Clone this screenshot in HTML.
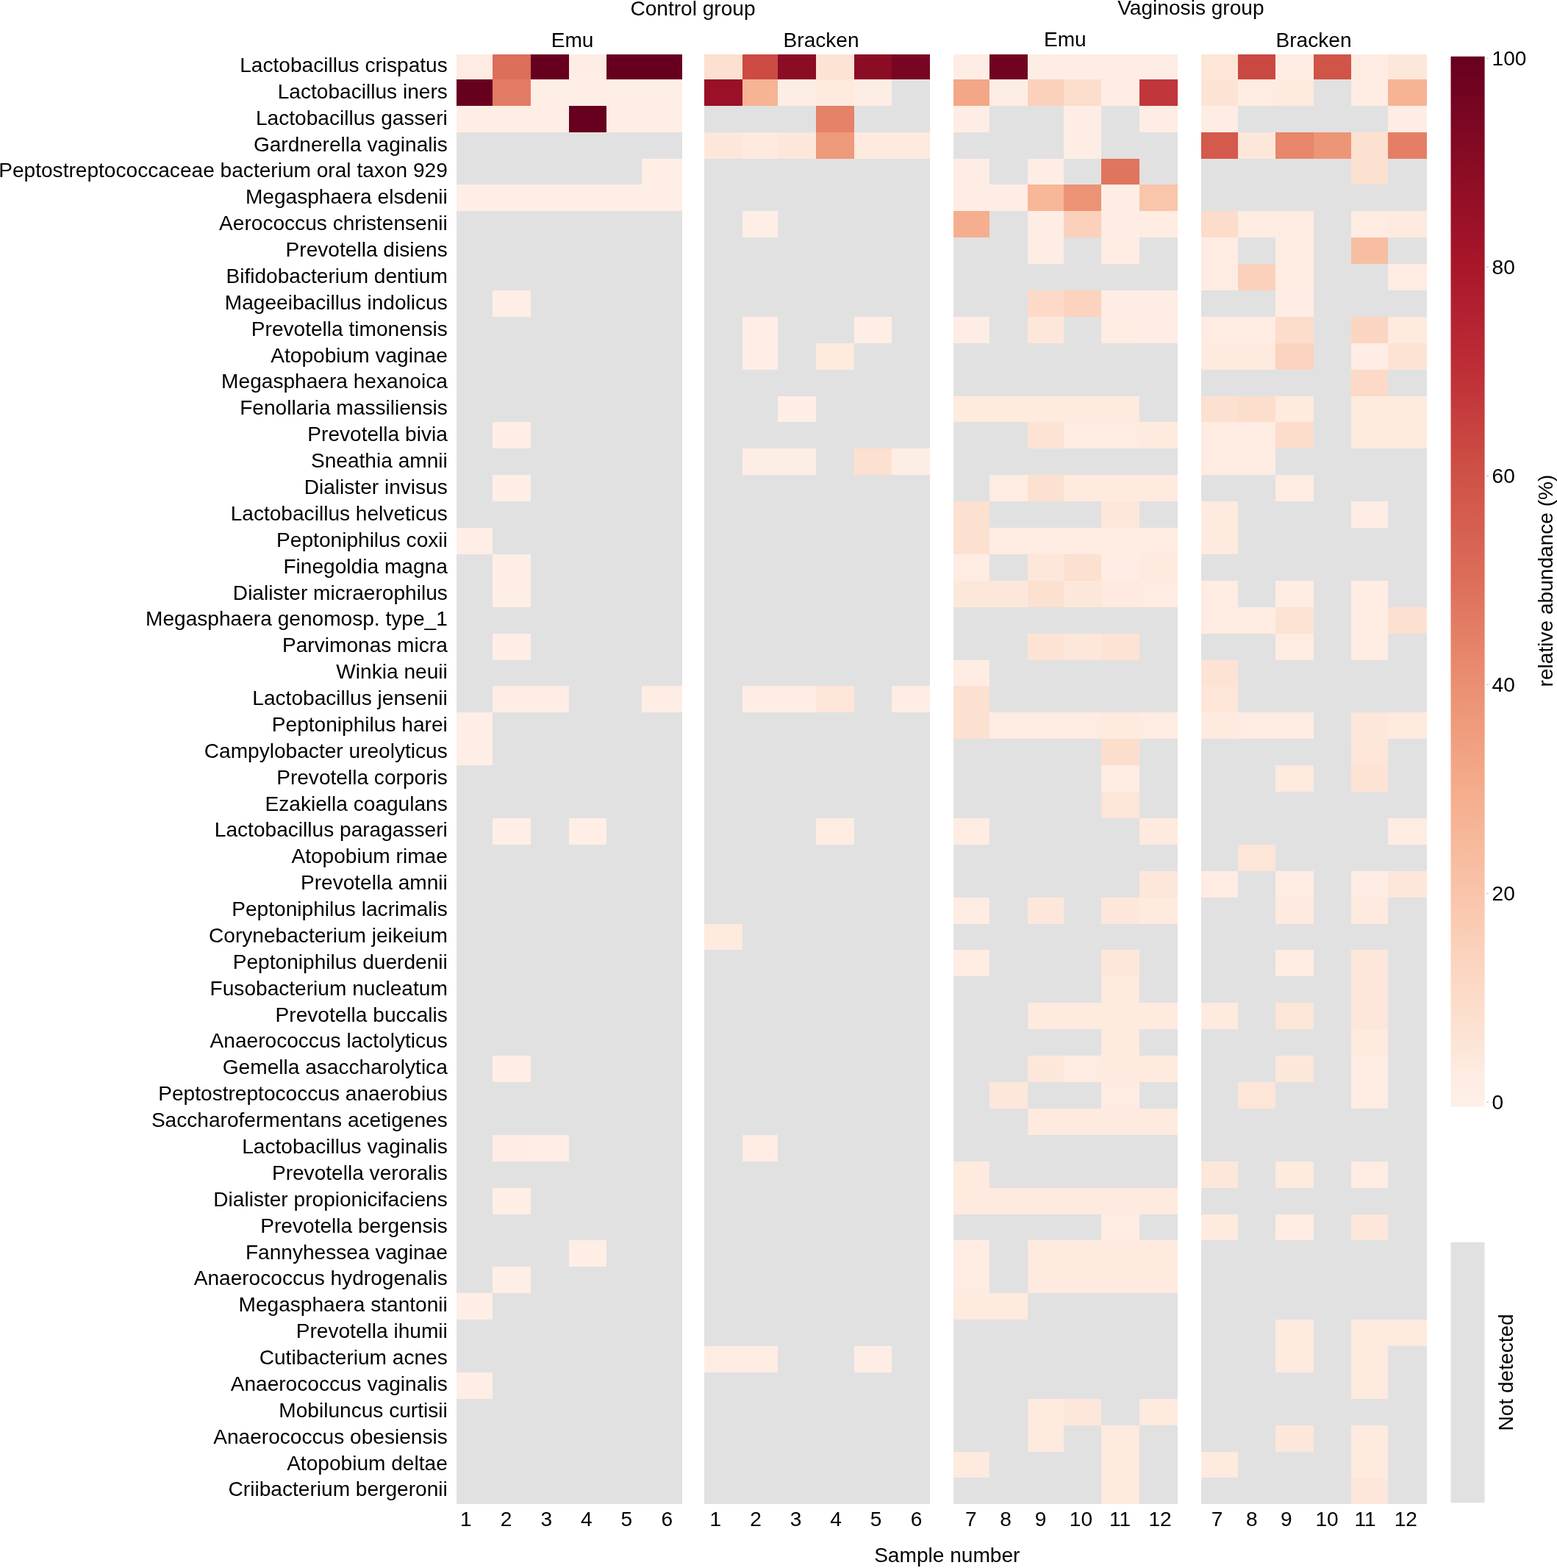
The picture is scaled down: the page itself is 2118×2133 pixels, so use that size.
<!DOCTYPE html>
<html><head><meta charset="utf-8"><title>Heatmap</title>
<style>html,body{margin:0;padding:0;background:#fff;} body{width:2118px;height:2133px;overflow:hidden;} svg{display:block;}</style>
</head><body>
<svg width="2118" height="2133" viewBox="0 0 2118 2133">
<defs><linearGradient id="cb" x1="0" y1="1" x2="0" y2="0">
<stop offset="0.00" stop-color="#feefe8"/>
<stop offset="0.03" stop-color="#feece3"/>
<stop offset="0.05" stop-color="#fde7da"/>
<stop offset="0.10" stop-color="#fcdcca"/>
<stop offset="0.15" stop-color="#fbd1bb"/>
<stop offset="0.20" stop-color="#f9c5ab"/>
<stop offset="0.30" stop-color="#f5ad8c"/>
<stop offset="0.40" stop-color="#eb9072"/>
<stop offset="0.50" stop-color="#dd6e5a"/>
<stop offset="0.60" stop-color="#cf5246"/>
<stop offset="0.70" stop-color="#be2f37"/>
<stop offset="0.80" stop-color="#aa162a"/>
<stop offset="0.90" stop-color="#880b24"/>
<stop offset="1.00" stop-color="#67001f"/>
</linearGradient></defs>
<rect x="0" y="0" width="2118" height="2133" fill="#fff"/>
<rect x="621" y="74" width="307" height="1972" fill="#e1e1e1"/>
<rect x="621" y="74" width="49" height="34" fill="#feece3"/>
<rect x="670" y="74" width="52" height="34" fill="#dd6e5a"/>
<rect x="722" y="74" width="52" height="34" fill="#67001f"/>
<rect x="774" y="74" width="51" height="34" fill="#feede5"/>
<rect x="825" y="74" width="48" height="34" fill="#67001f"/>
<rect x="873" y="74" width="55" height="34" fill="#67001f"/>
<rect x="621" y="108" width="49" height="36" fill="#67001f"/>
<rect x="670" y="108" width="52" height="36" fill="#e37c64"/>
<rect x="722" y="108" width="52" height="36" fill="#feeee6"/>
<rect x="774" y="108" width="51" height="36" fill="#feeee6"/>
<rect x="825" y="108" width="48" height="36" fill="#feeee6"/>
<rect x="873" y="108" width="55" height="36" fill="#feeee6"/>
<rect x="621" y="144" width="49" height="36" fill="#feeee6"/>
<rect x="670" y="144" width="52" height="36" fill="#feeee6"/>
<rect x="722" y="144" width="52" height="36" fill="#feeee6"/>
<rect x="774" y="144" width="51" height="36" fill="#67001f"/>
<rect x="825" y="144" width="48" height="36" fill="#feeee6"/>
<rect x="873" y="144" width="55" height="36" fill="#feeee6"/>
<rect x="873" y="216" width="55" height="35" fill="#feeee6"/>
<rect x="621" y="251" width="49" height="36" fill="#feeee6"/>
<rect x="670" y="251" width="52" height="36" fill="#feeee6"/>
<rect x="722" y="251" width="52" height="36" fill="#feeee6"/>
<rect x="774" y="251" width="51" height="36" fill="#feeee6"/>
<rect x="825" y="251" width="48" height="36" fill="#feeee6"/>
<rect x="873" y="251" width="55" height="36" fill="#feeee6"/>
<rect x="670" y="395" width="52" height="36" fill="#feeee6"/>
<rect x="670" y="574" width="52" height="36" fill="#feeee6"/>
<rect x="670" y="646" width="52" height="36" fill="#feeee6"/>
<rect x="621" y="718" width="49" height="36" fill="#feeee6"/>
<rect x="670" y="754" width="52" height="36" fill="#feeee6"/>
<rect x="670" y="790" width="52" height="36" fill="#feeee6"/>
<rect x="670" y="862" width="52" height="36" fill="#feeee6"/>
<rect x="670" y="933" width="52" height="36" fill="#feede5"/>
<rect x="722" y="933" width="52" height="36" fill="#feede5"/>
<rect x="873" y="933" width="55" height="36" fill="#feede5"/>
<rect x="621" y="969" width="49" height="36" fill="#feeee6"/>
<rect x="621" y="1005" width="49" height="36" fill="#feeee6"/>
<rect x="670" y="1113" width="52" height="36" fill="#feeee6"/>
<rect x="774" y="1113" width="51" height="36" fill="#feeee6"/>
<rect x="670" y="1436" width="52" height="36" fill="#feeee6"/>
<rect x="670" y="1544" width="52" height="36" fill="#feede5"/>
<rect x="722" y="1544" width="52" height="36" fill="#feeee6"/>
<rect x="670" y="1616" width="52" height="36" fill="#feeee6"/>
<rect x="774" y="1687" width="51" height="36" fill="#feeee6"/>
<rect x="670" y="1723" width="52" height="36" fill="#feeee6"/>
<rect x="621" y="1759" width="49" height="36" fill="#feeee6"/>
<rect x="621" y="1867" width="49" height="36" fill="#feeee6"/>
<rect x="958" y="74" width="307" height="1972" fill="#e1e1e1"/>
<rect x="958" y="74" width="52" height="34" fill="#fce0d0"/>
<rect x="1010" y="74" width="48" height="34" fill="#cc4b43"/>
<rect x="1058" y="74" width="52" height="34" fill="#8b0c25"/>
<rect x="1110" y="74" width="52" height="34" fill="#fde3d4"/>
<rect x="1162" y="74" width="51" height="34" fill="#8b0c25"/>
<rect x="1213" y="74" width="52" height="34" fill="#780622"/>
<rect x="958" y="108" width="52" height="36" fill="#991027"/>
<rect x="1010" y="108" width="48" height="36" fill="#f6b495"/>
<rect x="1058" y="108" width="52" height="36" fill="#feede5"/>
<rect x="1110" y="108" width="52" height="36" fill="#feeade"/>
<rect x="1162" y="108" width="51" height="36" fill="#feede5"/>
<rect x="1110" y="144" width="52" height="36" fill="#e58268"/>
<rect x="958" y="180" width="52" height="36" fill="#fde7da"/>
<rect x="1010" y="180" width="48" height="36" fill="#feeade"/>
<rect x="1058" y="180" width="52" height="36" fill="#fde7da"/>
<rect x="1110" y="180" width="52" height="36" fill="#ee997a"/>
<rect x="1162" y="180" width="51" height="36" fill="#feeade"/>
<rect x="1213" y="180" width="52" height="36" fill="#feeade"/>
<rect x="1010" y="287" width="48" height="36" fill="#feeee6"/>
<rect x="1010" y="431" width="48" height="36" fill="#feeee6"/>
<rect x="1162" y="431" width="51" height="36" fill="#feeee6"/>
<rect x="1010" y="467" width="48" height="36" fill="#feeee6"/>
<rect x="1110" y="467" width="52" height="36" fill="#feeade"/>
<rect x="1058" y="539" width="52" height="35" fill="#feeee6"/>
<rect x="1010" y="610" width="48" height="36" fill="#feede5"/>
<rect x="1058" y="610" width="52" height="36" fill="#feede5"/>
<rect x="1162" y="610" width="51" height="36" fill="#fce0d0"/>
<rect x="1213" y="610" width="52" height="36" fill="#feede5"/>
<rect x="1010" y="933" width="48" height="36" fill="#feede5"/>
<rect x="1058" y="933" width="52" height="36" fill="#feede5"/>
<rect x="1110" y="933" width="52" height="36" fill="#fde5d7"/>
<rect x="1213" y="933" width="52" height="36" fill="#feede5"/>
<rect x="1110" y="1113" width="52" height="36" fill="#feece3"/>
<rect x="958" y="1257" width="52" height="35" fill="#feeade"/>
<rect x="1010" y="1544" width="48" height="36" fill="#feece3"/>
<rect x="958" y="1831" width="52" height="36" fill="#feece3"/>
<rect x="1010" y="1831" width="48" height="36" fill="#feece3"/>
<rect x="1162" y="1831" width="51" height="36" fill="#feede5"/>
<rect x="1297" y="74" width="305" height="1972" fill="#e1e1e1"/>
<rect x="1297" y="74" width="49" height="34" fill="#feede5"/>
<rect x="1346" y="74" width="52" height="34" fill="#710320"/>
<rect x="1398" y="74" width="49" height="34" fill="#feede5"/>
<rect x="1447" y="74" width="51" height="34" fill="#feede5"/>
<rect x="1498" y="74" width="52" height="34" fill="#feede5"/>
<rect x="1550" y="74" width="52" height="34" fill="#feede5"/>
<rect x="1297" y="108" width="49" height="36" fill="#f3a787"/>
<rect x="1346" y="108" width="52" height="36" fill="#feede5"/>
<rect x="1398" y="108" width="49" height="36" fill="#fbd1bb"/>
<rect x="1447" y="108" width="51" height="36" fill="#fcdecd"/>
<rect x="1498" y="108" width="52" height="36" fill="#feede5"/>
<rect x="1550" y="108" width="52" height="36" fill="#c1363a"/>
<rect x="1297" y="144" width="49" height="36" fill="#feede5"/>
<rect x="1447" y="144" width="51" height="36" fill="#feede5"/>
<rect x="1550" y="144" width="52" height="36" fill="#feede5"/>
<rect x="1447" y="180" width="51" height="36" fill="#feede5"/>
<rect x="1297" y="216" width="49" height="35" fill="#feede5"/>
<rect x="1398" y="216" width="49" height="35" fill="#feede5"/>
<rect x="1498" y="216" width="52" height="35" fill="#e0755f"/>
<rect x="1297" y="251" width="49" height="36" fill="#feede5"/>
<rect x="1346" y="251" width="52" height="36" fill="#feede5"/>
<rect x="1398" y="251" width="49" height="36" fill="#f7b798"/>
<rect x="1447" y="251" width="51" height="36" fill="#ec9375"/>
<rect x="1498" y="251" width="52" height="36" fill="#feede5"/>
<rect x="1550" y="251" width="52" height="36" fill="#f9c5ab"/>
<rect x="1297" y="287" width="49" height="36" fill="#f5af8f"/>
<rect x="1398" y="287" width="49" height="36" fill="#feede5"/>
<rect x="1447" y="287" width="51" height="36" fill="#fbd1bb"/>
<rect x="1498" y="287" width="52" height="36" fill="#feede5"/>
<rect x="1550" y="287" width="52" height="36" fill="#feece3"/>
<rect x="1398" y="323" width="49" height="36" fill="#feede5"/>
<rect x="1498" y="323" width="52" height="36" fill="#feece3"/>
<rect x="1398" y="395" width="49" height="36" fill="#fcdac7"/>
<rect x="1447" y="395" width="51" height="36" fill="#fbd3be"/>
<rect x="1498" y="395" width="52" height="36" fill="#feede5"/>
<rect x="1550" y="395" width="52" height="36" fill="#feede5"/>
<rect x="1297" y="431" width="49" height="36" fill="#feede5"/>
<rect x="1398" y="431" width="49" height="36" fill="#fde7da"/>
<rect x="1498" y="431" width="52" height="36" fill="#feece3"/>
<rect x="1550" y="431" width="52" height="36" fill="#feede5"/>
<rect x="1297" y="539" width="49" height="35" fill="#feeade"/>
<rect x="1346" y="539" width="52" height="35" fill="#feeade"/>
<rect x="1398" y="539" width="49" height="35" fill="#feeade"/>
<rect x="1447" y="539" width="51" height="35" fill="#feeade"/>
<rect x="1498" y="539" width="52" height="35" fill="#feeade"/>
<rect x="1398" y="574" width="49" height="36" fill="#fde3d4"/>
<rect x="1447" y="574" width="51" height="36" fill="#feece3"/>
<rect x="1498" y="574" width="52" height="36" fill="#feece3"/>
<rect x="1550" y="574" width="52" height="36" fill="#feeade"/>
<rect x="1346" y="646" width="52" height="36" fill="#feece3"/>
<rect x="1398" y="646" width="49" height="36" fill="#fce0d0"/>
<rect x="1447" y="646" width="51" height="36" fill="#feeade"/>
<rect x="1498" y="646" width="52" height="36" fill="#feeade"/>
<rect x="1550" y="646" width="52" height="36" fill="#feeade"/>
<rect x="1297" y="682" width="49" height="36" fill="#fce0d0"/>
<rect x="1498" y="682" width="52" height="36" fill="#fde7da"/>
<rect x="1297" y="718" width="49" height="36" fill="#fce0d0"/>
<rect x="1346" y="718" width="52" height="36" fill="#feece3"/>
<rect x="1398" y="718" width="49" height="36" fill="#feece3"/>
<rect x="1447" y="718" width="51" height="36" fill="#feece3"/>
<rect x="1498" y="718" width="52" height="36" fill="#feece3"/>
<rect x="1550" y="718" width="52" height="36" fill="#feece3"/>
<rect x="1297" y="754" width="49" height="36" fill="#feece3"/>
<rect x="1398" y="754" width="49" height="36" fill="#fde7da"/>
<rect x="1447" y="754" width="51" height="36" fill="#fce0d0"/>
<rect x="1498" y="754" width="52" height="36" fill="#feede5"/>
<rect x="1550" y="754" width="52" height="36" fill="#feeade"/>
<rect x="1297" y="790" width="49" height="36" fill="#fde7da"/>
<rect x="1346" y="790" width="52" height="36" fill="#fde7da"/>
<rect x="1398" y="790" width="49" height="36" fill="#fce0d0"/>
<rect x="1447" y="790" width="51" height="36" fill="#fde7da"/>
<rect x="1498" y="790" width="52" height="36" fill="#feeade"/>
<rect x="1550" y="790" width="52" height="36" fill="#feece3"/>
<rect x="1398" y="862" width="49" height="36" fill="#fde3d4"/>
<rect x="1447" y="862" width="51" height="36" fill="#fde7da"/>
<rect x="1498" y="862" width="52" height="36" fill="#fde3d4"/>
<rect x="1297" y="898" width="49" height="35" fill="#feece3"/>
<rect x="1297" y="933" width="49" height="36" fill="#fce0d0"/>
<rect x="1297" y="969" width="49" height="36" fill="#fce0d0"/>
<rect x="1346" y="969" width="52" height="36" fill="#feece3"/>
<rect x="1398" y="969" width="49" height="36" fill="#feece3"/>
<rect x="1447" y="969" width="51" height="36" fill="#feece3"/>
<rect x="1498" y="969" width="52" height="36" fill="#feeade"/>
<rect x="1550" y="969" width="52" height="36" fill="#feece3"/>
<rect x="1498" y="1005" width="52" height="36" fill="#fcdecd"/>
<rect x="1498" y="1041" width="52" height="36" fill="#feece3"/>
<rect x="1498" y="1077" width="52" height="36" fill="#fde5d7"/>
<rect x="1297" y="1113" width="49" height="36" fill="#feece3"/>
<rect x="1550" y="1113" width="52" height="36" fill="#feeade"/>
<rect x="1550" y="1185" width="52" height="36" fill="#fde7da"/>
<rect x="1297" y="1221" width="49" height="36" fill="#feece3"/>
<rect x="1398" y="1221" width="49" height="36" fill="#fde7da"/>
<rect x="1498" y="1221" width="52" height="36" fill="#fde7da"/>
<rect x="1550" y="1221" width="52" height="36" fill="#feeade"/>
<rect x="1297" y="1292" width="49" height="36" fill="#feece3"/>
<rect x="1498" y="1292" width="52" height="36" fill="#fde7da"/>
<rect x="1498" y="1328" width="52" height="36" fill="#feeade"/>
<rect x="1398" y="1364" width="49" height="36" fill="#feeade"/>
<rect x="1447" y="1364" width="51" height="36" fill="#feeade"/>
<rect x="1498" y="1364" width="52" height="36" fill="#feeade"/>
<rect x="1550" y="1364" width="52" height="36" fill="#feeade"/>
<rect x="1498" y="1400" width="52" height="36" fill="#feeade"/>
<rect x="1398" y="1436" width="49" height="36" fill="#fde7da"/>
<rect x="1447" y="1436" width="51" height="36" fill="#feece3"/>
<rect x="1498" y="1436" width="52" height="36" fill="#feeade"/>
<rect x="1550" y="1436" width="52" height="36" fill="#feeade"/>
<rect x="1346" y="1472" width="52" height="36" fill="#fde7da"/>
<rect x="1498" y="1472" width="52" height="36" fill="#feece3"/>
<rect x="1398" y="1508" width="49" height="36" fill="#feeade"/>
<rect x="1447" y="1508" width="51" height="36" fill="#feeade"/>
<rect x="1498" y="1508" width="52" height="36" fill="#feeade"/>
<rect x="1550" y="1508" width="52" height="36" fill="#feeade"/>
<rect x="1297" y="1580" width="49" height="36" fill="#feeade"/>
<rect x="1297" y="1616" width="49" height="36" fill="#feeade"/>
<rect x="1346" y="1616" width="52" height="36" fill="#feeade"/>
<rect x="1398" y="1616" width="49" height="36" fill="#feeade"/>
<rect x="1447" y="1616" width="51" height="36" fill="#feeade"/>
<rect x="1498" y="1616" width="52" height="36" fill="#feeade"/>
<rect x="1550" y="1616" width="52" height="36" fill="#feeade"/>
<rect x="1498" y="1652" width="52" height="35" fill="#feece3"/>
<rect x="1297" y="1687" width="49" height="36" fill="#feece3"/>
<rect x="1398" y="1687" width="49" height="36" fill="#feeade"/>
<rect x="1447" y="1687" width="51" height="36" fill="#feeade"/>
<rect x="1498" y="1687" width="52" height="36" fill="#feeade"/>
<rect x="1550" y="1687" width="52" height="36" fill="#feeade"/>
<rect x="1297" y="1723" width="49" height="36" fill="#feece3"/>
<rect x="1398" y="1723" width="49" height="36" fill="#feeade"/>
<rect x="1447" y="1723" width="51" height="36" fill="#feeade"/>
<rect x="1498" y="1723" width="52" height="36" fill="#feeade"/>
<rect x="1550" y="1723" width="52" height="36" fill="#feeade"/>
<rect x="1297" y="1759" width="49" height="36" fill="#feeade"/>
<rect x="1346" y="1759" width="52" height="36" fill="#feeade"/>
<rect x="1398" y="1903" width="49" height="36" fill="#feeade"/>
<rect x="1447" y="1903" width="51" height="36" fill="#fde7da"/>
<rect x="1550" y="1903" width="52" height="36" fill="#feeade"/>
<rect x="1398" y="1939" width="49" height="36" fill="#feeade"/>
<rect x="1498" y="1939" width="52" height="36" fill="#feeade"/>
<rect x="1297" y="1975" width="49" height="35" fill="#feeade"/>
<rect x="1498" y="1975" width="52" height="35" fill="#feeade"/>
<rect x="1498" y="2010" width="52" height="36" fill="#feeade"/>
<rect x="1634" y="74" width="307" height="1972" fill="#e1e1e1"/>
<rect x="1634" y="74" width="50" height="34" fill="#fde5d7"/>
<rect x="1684" y="74" width="51" height="34" fill="#ca4842"/>
<rect x="1735" y="74" width="52" height="34" fill="#feece3"/>
<rect x="1787" y="74" width="51" height="34" fill="#d05548"/>
<rect x="1838" y="74" width="50" height="34" fill="#feece3"/>
<rect x="1888" y="74" width="53" height="34" fill="#fde7da"/>
<rect x="1634" y="108" width="50" height="36" fill="#fde3d4"/>
<rect x="1684" y="108" width="51" height="36" fill="#feece3"/>
<rect x="1735" y="108" width="52" height="36" fill="#feeade"/>
<rect x="1838" y="108" width="50" height="36" fill="#feece3"/>
<rect x="1888" y="108" width="53" height="36" fill="#f6b495"/>
<rect x="1634" y="144" width="50" height="36" fill="#feede5"/>
<rect x="1888" y="144" width="53" height="36" fill="#feede5"/>
<rect x="1634" y="180" width="50" height="36" fill="#d35a4c"/>
<rect x="1684" y="180" width="51" height="36" fill="#fde7da"/>
<rect x="1735" y="180" width="52" height="36" fill="#e7866b"/>
<rect x="1787" y="180" width="51" height="36" fill="#ed9677"/>
<rect x="1838" y="180" width="50" height="36" fill="#fce0d0"/>
<rect x="1888" y="180" width="53" height="36" fill="#e47f66"/>
<rect x="1838" y="216" width="50" height="35" fill="#fce0d0"/>
<rect x="1634" y="287" width="50" height="36" fill="#fcdcca"/>
<rect x="1684" y="287" width="51" height="36" fill="#feece3"/>
<rect x="1735" y="287" width="52" height="36" fill="#feece3"/>
<rect x="1838" y="287" width="50" height="36" fill="#feece3"/>
<rect x="1888" y="287" width="53" height="36" fill="#feeade"/>
<rect x="1634" y="323" width="50" height="36" fill="#feece3"/>
<rect x="1735" y="323" width="52" height="36" fill="#feece3"/>
<rect x="1838" y="323" width="50" height="36" fill="#f8bea2"/>
<rect x="1634" y="359" width="50" height="36" fill="#feece3"/>
<rect x="1684" y="359" width="51" height="36" fill="#fbd1bb"/>
<rect x="1735" y="359" width="52" height="36" fill="#feece3"/>
<rect x="1888" y="359" width="53" height="36" fill="#feece3"/>
<rect x="1735" y="395" width="52" height="36" fill="#feede5"/>
<rect x="1634" y="431" width="50" height="36" fill="#feece3"/>
<rect x="1684" y="431" width="51" height="36" fill="#feece3"/>
<rect x="1735" y="431" width="52" height="36" fill="#fcdcca"/>
<rect x="1838" y="431" width="50" height="36" fill="#fbd5c1"/>
<rect x="1888" y="431" width="53" height="36" fill="#feeade"/>
<rect x="1634" y="467" width="50" height="36" fill="#feeade"/>
<rect x="1684" y="467" width="51" height="36" fill="#feeade"/>
<rect x="1735" y="467" width="52" height="36" fill="#fbd3be"/>
<rect x="1838" y="467" width="50" height="36" fill="#feede5"/>
<rect x="1888" y="467" width="53" height="36" fill="#fde3d4"/>
<rect x="1838" y="503" width="50" height="36" fill="#fcdac7"/>
<rect x="1634" y="539" width="50" height="35" fill="#fce0d0"/>
<rect x="1684" y="539" width="51" height="35" fill="#fcdecd"/>
<rect x="1735" y="539" width="52" height="35" fill="#feeade"/>
<rect x="1838" y="539" width="50" height="35" fill="#feeade"/>
<rect x="1888" y="539" width="53" height="35" fill="#feeade"/>
<rect x="1634" y="574" width="50" height="36" fill="#feece3"/>
<rect x="1684" y="574" width="51" height="36" fill="#feece3"/>
<rect x="1735" y="574" width="52" height="36" fill="#fcdcca"/>
<rect x="1838" y="574" width="50" height="36" fill="#feeade"/>
<rect x="1888" y="574" width="53" height="36" fill="#feeade"/>
<rect x="1634" y="610" width="50" height="36" fill="#feece3"/>
<rect x="1684" y="610" width="51" height="36" fill="#feece3"/>
<rect x="1735" y="646" width="52" height="36" fill="#feece3"/>
<rect x="1634" y="682" width="50" height="36" fill="#feeade"/>
<rect x="1838" y="682" width="50" height="36" fill="#feede5"/>
<rect x="1634" y="718" width="50" height="36" fill="#feeade"/>
<rect x="1634" y="790" width="50" height="36" fill="#feece3"/>
<rect x="1735" y="790" width="52" height="36" fill="#feece3"/>
<rect x="1838" y="790" width="50" height="36" fill="#feece3"/>
<rect x="1634" y="826" width="50" height="36" fill="#feece3"/>
<rect x="1684" y="826" width="51" height="36" fill="#feece3"/>
<rect x="1735" y="826" width="52" height="36" fill="#fde3d4"/>
<rect x="1838" y="826" width="50" height="36" fill="#feece3"/>
<rect x="1888" y="826" width="53" height="36" fill="#fce0d0"/>
<rect x="1735" y="862" width="52" height="36" fill="#feece3"/>
<rect x="1838" y="862" width="50" height="36" fill="#feece3"/>
<rect x="1634" y="898" width="50" height="35" fill="#fde3d4"/>
<rect x="1634" y="933" width="50" height="36" fill="#fde5d7"/>
<rect x="1634" y="969" width="50" height="36" fill="#feeade"/>
<rect x="1684" y="969" width="51" height="36" fill="#feece3"/>
<rect x="1735" y="969" width="52" height="36" fill="#feece3"/>
<rect x="1838" y="969" width="50" height="36" fill="#fde7da"/>
<rect x="1888" y="969" width="53" height="36" fill="#feeade"/>
<rect x="1838" y="1005" width="50" height="36" fill="#fde5d7"/>
<rect x="1735" y="1041" width="52" height="36" fill="#feeade"/>
<rect x="1838" y="1041" width="50" height="36" fill="#fde3d4"/>
<rect x="1888" y="1113" width="53" height="36" fill="#feece3"/>
<rect x="1684" y="1149" width="51" height="36" fill="#fde5d7"/>
<rect x="1634" y="1185" width="50" height="36" fill="#feece3"/>
<rect x="1735" y="1185" width="52" height="36" fill="#feece3"/>
<rect x="1838" y="1185" width="50" height="36" fill="#feede5"/>
<rect x="1888" y="1185" width="53" height="36" fill="#fde7da"/>
<rect x="1735" y="1221" width="52" height="36" fill="#feeade"/>
<rect x="1838" y="1221" width="50" height="36" fill="#feeade"/>
<rect x="1735" y="1292" width="52" height="36" fill="#feece3"/>
<rect x="1838" y="1292" width="50" height="36" fill="#fde7da"/>
<rect x="1838" y="1328" width="50" height="36" fill="#fde7da"/>
<rect x="1634" y="1364" width="50" height="36" fill="#feeade"/>
<rect x="1735" y="1364" width="52" height="36" fill="#fde5d7"/>
<rect x="1838" y="1364" width="50" height="36" fill="#fde7da"/>
<rect x="1838" y="1400" width="50" height="36" fill="#feeade"/>
<rect x="1735" y="1436" width="52" height="36" fill="#fde7da"/>
<rect x="1838" y="1436" width="50" height="36" fill="#feece3"/>
<rect x="1684" y="1472" width="51" height="36" fill="#fde5d7"/>
<rect x="1838" y="1472" width="50" height="36" fill="#feece3"/>
<rect x="1634" y="1580" width="50" height="36" fill="#fde7da"/>
<rect x="1735" y="1580" width="52" height="36" fill="#feeade"/>
<rect x="1838" y="1580" width="50" height="36" fill="#feece3"/>
<rect x="1634" y="1652" width="50" height="35" fill="#feeade"/>
<rect x="1735" y="1652" width="52" height="35" fill="#feece3"/>
<rect x="1838" y="1652" width="50" height="35" fill="#fde7da"/>
<rect x="1735" y="1795" width="52" height="36" fill="#feeade"/>
<rect x="1838" y="1795" width="50" height="36" fill="#feeade"/>
<rect x="1888" y="1795" width="53" height="36" fill="#feeade"/>
<rect x="1735" y="1831" width="52" height="36" fill="#feeade"/>
<rect x="1838" y="1831" width="50" height="36" fill="#feeade"/>
<rect x="1838" y="1867" width="50" height="36" fill="#feeade"/>
<rect x="1735" y="1939" width="52" height="36" fill="#fde7da"/>
<rect x="1838" y="1939" width="50" height="36" fill="#feeade"/>
<rect x="1634" y="1975" width="50" height="35" fill="#feeade"/>
<rect x="1838" y="1975" width="50" height="35" fill="#feeade"/>
<rect x="1838" y="2010" width="50" height="36" fill="#fde7da"/>
<rect x="1973.5" y="76.8" width="46.1" height="1428.7" fill="url(#cb)"/>
<rect x="1973.5" y="1690.0" width="46.1" height="354.3" fill="#e1e1e1"/>
<g font-family="'Liberation Sans', Arial, Helvetica, sans-serif" font-size="28.1" fill="#000">
<g text-anchor="end">
<text x="608.8" y="97.9">Lactobacillus crispatus</text>
<text x="608.8" y="133.78">Lactobacillus iners</text>
<text x="608.8" y="169.66">Lactobacillus gasseri</text>
<text x="608.8" y="205.54">Gardnerella vaginalis</text>
<text x="608.8" y="241.42">Peptostreptococcaceae bacterium oral taxon 929</text>
<text x="608.8" y="277.3">Megasphaera elsdenii</text>
<text x="608.8" y="313.18">Aerococcus christensenii</text>
<text x="608.8" y="349.06">Prevotella disiens</text>
<text x="608.8" y="384.94">Bifidobacterium dentium</text>
<text x="608.8" y="420.82">Mageeibacillus indolicus</text>
<text x="608.8" y="456.7">Prevotella timonensis</text>
<text x="608.8" y="492.58">Atopobium vaginae</text>
<text x="608.8" y="528.46">Megasphaera hexanoica</text>
<text x="608.8" y="564.34">Fenollaria massiliensis</text>
<text x="608.8" y="600.22">Prevotella bivia</text>
<text x="608.8" y="636.1">Sneathia amnii</text>
<text x="608.8" y="671.98">Dialister invisus</text>
<text x="608.8" y="707.86">Lactobacillus helveticus</text>
<text x="608.8" y="743.74">Peptoniphilus coxii</text>
<text x="608.8" y="779.62">Finegoldia magna</text>
<text x="608.8" y="815.5">Dialister micraerophilus</text>
<text x="608.8" y="851.38">Megasphaera genomosp. type_1</text>
<text x="608.8" y="887.26">Parvimonas micra</text>
<text x="608.8" y="923.14">Winkia neuii</text>
<text x="608.8" y="959.02">Lactobacillus jensenii</text>
<text x="608.8" y="994.9">Peptoniphilus harei</text>
<text x="608.8" y="1030.78">Campylobacter ureolyticus</text>
<text x="608.8" y="1066.66">Prevotella corporis</text>
<text x="608.8" y="1102.54">Ezakiella coagulans</text>
<text x="608.8" y="1138.42">Lactobacillus paragasseri</text>
<text x="608.8" y="1174.3">Atopobium rimae</text>
<text x="608.8" y="1210.18">Prevotella amnii</text>
<text x="608.8" y="1246.06">Peptoniphilus lacrimalis</text>
<text x="608.8" y="1281.94">Corynebacterium jeikeium</text>
<text x="608.8" y="1317.82">Peptoniphilus duerdenii</text>
<text x="608.8" y="1353.7">Fusobacterium nucleatum</text>
<text x="608.8" y="1389.58">Prevotella buccalis</text>
<text x="608.8" y="1425.46">Anaerococcus lactolyticus</text>
<text x="608.8" y="1461.34">Gemella asaccharolytica</text>
<text x="608.8" y="1497.22">Peptostreptococcus anaerobius</text>
<text x="608.8" y="1533.1">Saccharofermentans acetigenes</text>
<text x="608.8" y="1568.98">Lactobacillus vaginalis</text>
<text x="608.8" y="1604.86">Prevotella veroralis</text>
<text x="608.8" y="1640.74">Dialister propionicifaciens</text>
<text x="608.8" y="1676.62">Prevotella bergensis</text>
<text x="608.8" y="1712.5">Fannyhessea vaginae</text>
<text x="608.8" y="1748.38">Anaerococcus hydrogenalis</text>
<text x="608.8" y="1784.26">Megasphaera stantonii</text>
<text x="608.8" y="1820.14">Prevotella ihumii</text>
<text x="608.8" y="1856.02">Cutibacterium acnes</text>
<text x="608.8" y="1891.9">Anaerococcus vaginalis</text>
<text x="608.8" y="1927.78">Mobiluncus curtisii</text>
<text x="608.8" y="1963.66">Anaerococcus obesiensis</text>
<text x="608.8" y="1999.54">Atopobium deltae</text>
<text x="608.8" y="2035.42">Criibacterium bergeronii</text>
</g>
<g text-anchor="middle">
<text x="633.8" y="2075.8">1</text>
<text x="688.6" y="2075.8">2</text>
<text x="743.4" y="2075.8">3</text>
<text x="797.9" y="2075.8">4</text>
<text x="852.4" y="2075.8">5</text>
<text x="907.3" y="2075.8">6</text>
<text x="973.3" y="2075.8">1</text>
<text x="1028.1" y="2075.8">2</text>
<text x="1082.6" y="2075.8">3</text>
<text x="1137.1" y="2075.8">4</text>
<text x="1191.6" y="2075.8">5</text>
<text x="1246.5" y="2075.8">6</text>
<text x="1320.9" y="2075.8">7</text>
<text x="1368" y="2075.8">8</text>
<text x="1415.5" y="2075.8">9</text>
<text x="1470.4" y="2075.8">10</text>
<text x="1523.5" y="2075.8">11</text>
<text x="1578" y="2075.8">12</text>
<text x="1655.5" y="2075.8">7</text>
<text x="1702.7" y="2075.8">8</text>
<text x="1749.8" y="2075.8">9</text>
<text x="1805" y="2075.8">10</text>
<text x="1857.1" y="2075.8">11</text>
<text x="1912.3" y="2075.8">12</text>
</g>
<text x="942.5" y="20.6" text-anchor="middle">Control group</text>
<text x="1619.9" y="20.3" text-anchor="middle">Vaginosis group</text>
<text x="778.6" y="63.8" text-anchor="middle">Emu</text>
<text x="1117.1" y="63.9" text-anchor="middle">Bracken</text>
<text x="1448.8" y="63.4" text-anchor="middle">Emu</text>
<text x="1787.0" y="63.9" text-anchor="middle">Bracken</text>
<text x="1288.3" y="2125.3" text-anchor="middle">Sample number</text>
<text x="2029.6" y="1509.3">0</text>
<text x="2029.6" y="1225.3">20</text>
<text x="2029.6" y="941.3">40</text>
<text x="2029.6" y="657.3">60</text>
<text x="2029.6" y="373.3">80</text>
<text x="2029.6" y="89.3">100</text>
<text transform="translate(2111.7,790) rotate(-90)" text-anchor="middle">relative abundance (%)</text>
<text transform="translate(2057.8,1866.9) rotate(-90)" text-anchor="middle">Not detected</text>
</g>
<line x1="2022" y1="1499.3" x2="2025" y2="1499.3" stroke="#bbb" stroke-width="1"/>
<line x1="2022" y1="1215.3" x2="2025" y2="1215.3" stroke="#bbb" stroke-width="1"/>
<line x1="2022" y1="931.3" x2="2025" y2="931.3" stroke="#bbb" stroke-width="1"/>
<line x1="2022" y1="647.3" x2="2025" y2="647.3" stroke="#bbb" stroke-width="1"/>
<line x1="2022" y1="363.3" x2="2025" y2="363.3" stroke="#bbb" stroke-width="1"/>
<line x1="2022" y1="79.3" x2="2025" y2="79.3" stroke="#bbb" stroke-width="1"/>
</svg>
</body></html>
